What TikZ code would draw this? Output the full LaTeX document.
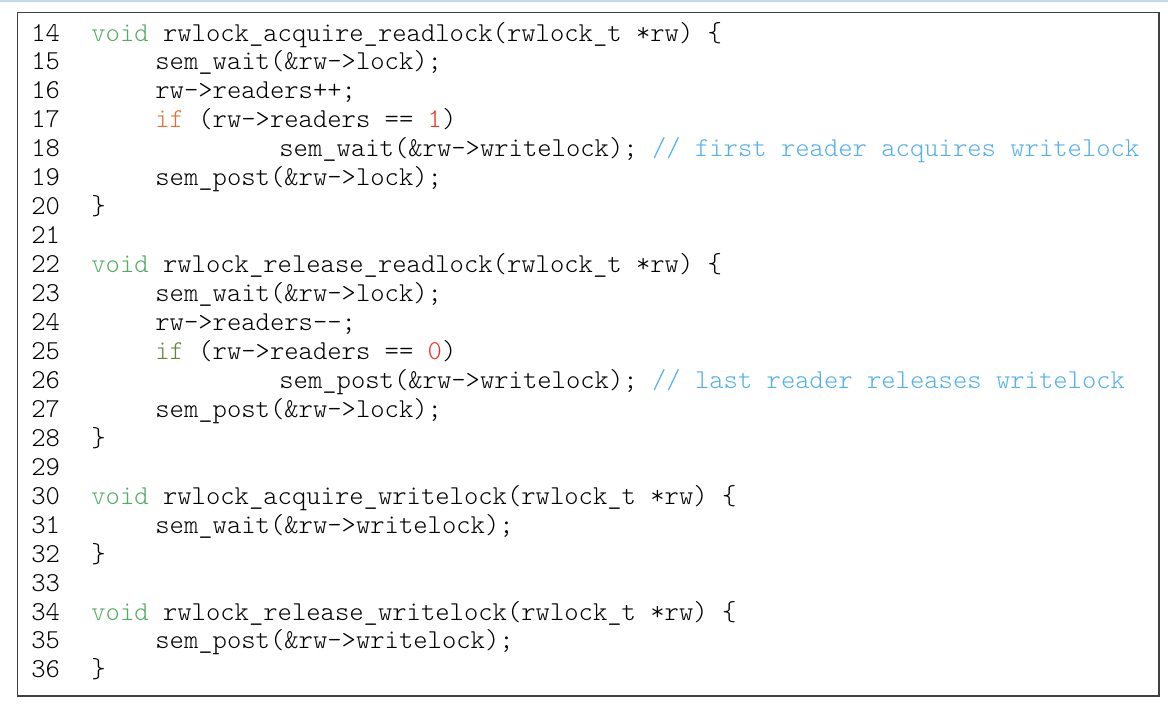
\documentclass[tikz,border=0pt]{standalone}
\usepackage{xcolor}
\usepackage{tikz}
\definecolor{kwgreen}{RGB}{82,172,96}
\definecolor{kworange}{RGB}{232,112,44}
\definecolor{kwolive}{RGB}{98,136,64}
\definecolor{numred}{RGB}{236,52,38}
\definecolor{cmtblue}{RGB}{84,176,236}
\definecolor{topblue}{RGB}{196,216,240}
\definecolor{boxgray}{RGB}{64,64,64}

\begin{document}
\begin{tikzpicture}[x=0.5pt,y=-0.5pt,
    code/.style={font=\ttfamily\fontseries{l}\fontsize{13.65}{14.5}\selectfont, inner sep=0pt, anchor=base west}]
                \useasboundingbox (0,0) rectangle (1168,708);
                \fill[topblue] (0,0) rectangle (1168,2);
                \draw[boxgray, line width=0.75pt] (17.5,12.5) rectangle (1159,696);
                % line numbers
                \foreach \n in {14,...,36}
                    \node[code] (num\n) at (31,{41+(\n-14)*28.95}) {\n};
                % reader lock
                \node[code] (c14) at (91,41) {\textcolor{kwgreen}{void} rwlock\_acquire\_readlock(rwlock\_t *rw) \{};
                \node[code] (c15) at (155,69.95) {sem\_wait(\&rw->lock);};
                \node[code] (c16) at (155,98.9) {rw->readers++;};
                \node[code] (c17) at (155,127.85) {\textcolor{kworange}{if} (rw->readers == \textcolor{numred}{1})};
                \node[code] (c18) at (279,156.8) {sem\_wait(\&rw->writelock); \textcolor{cmtblue}{// first reader acquires writelock}};
                \node[code] (c19) at (155,185.75) {sem\_post(\&rw->lock);};
                \node[code] (c20) at (91,214.7) {\}};
                \node[code] (c22) at (91,272.6) {\textcolor{kwgreen}{void} rwlock\_release\_readlock(rwlock\_t *rw) \{};
                \node[code] (c23) at (155,301.55) {sem\_wait(\&rw->lock);};
                \node[code] (c24) at (155,330.5) {rw->readers-{}-;};
                \node[code] (c25) at (155,359.45) {\textcolor{kwolive}{if} (rw->readers == \textcolor{numred}{0})};
                \node[code] (c26) at (279,388.4) {sem\_post(\&rw->writelock); \textcolor{cmtblue}{// last reader releases writelock}};
                \node[code] (c27) at (155,417.35) {sem\_post(\&rw->lock);};
                \node[code] (c28) at (91,446.3) {\}};
                % writer lock
                \node[code] (c30) at (91,504.2) {\textcolor{kwgreen}{void} rwlock\_acquire\_writelock(rwlock\_t *rw) \{};
                \node[code] (c31) at (155,533.15) {sem\_wait(\&rw->writelock);};
                \node[code] (c32) at (91,562.1) {\}};
                \node[code] (c34) at (91,620) {\textcolor{kwgreen}{void} rwlock\_release\_writelock(rwlock\_t *rw) \{};
                \node[code] (c35) at (155,648.95) {sem\_post(\&rw->writelock);};
                \node[code] (c36) at (91,677.9) {\}};
            \end{tikzpicture}
\end{document}
